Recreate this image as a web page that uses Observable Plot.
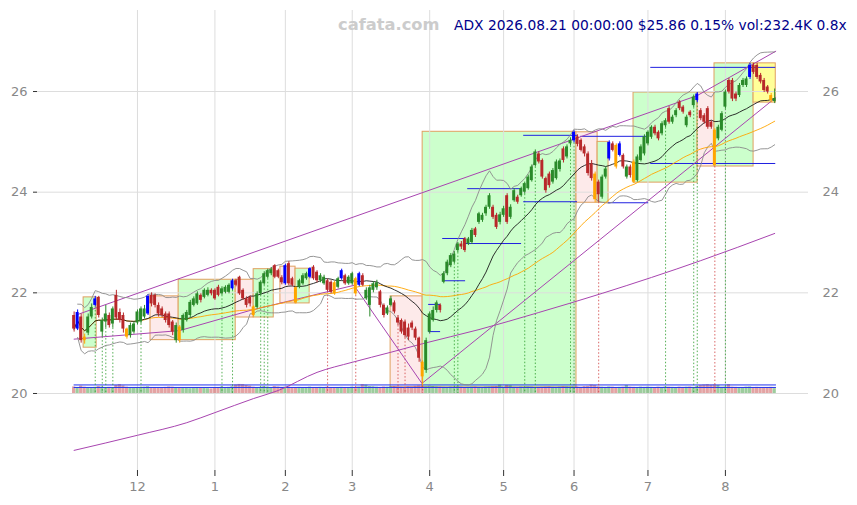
<!DOCTYPE html>
<html><head><meta charset="utf-8">
<script src="https://cdn.jsdelivr.net/npm/d3@7"></script>
<script src="https://cdn.jsdelivr.net/npm/@observablehq/plot@0.6"></script>
<style>
body{margin:0;background:#fff;}
#wrap{position:relative;width:857px;height:505px;font-family:"DejaVu Sans",sans-serif;}
#site{position:absolute;left:338px;top:15px;font-size:16.3px;font-weight:bold;color:#cccccc;}
#info{position:absolute;left:454px;top:17px;font-size:13.8px;color:#00008b;white-space:nowrap;}
</style></head><body>
<div id="wrap"><div id="chart"></div><div id="site">cafata.com</div><div id="info"></div></div>
<script>
const ticker = "ADX", lastDate = "2026.08.21 00:00:00", lastPrice = 25.86, lastChange = 0.15, lastVol = "232.4K", volRatio = "0.8x";
const monthTicks = [18,40,60,79,101,122,142,163,185];
const monthLabels = ["12","1","2","3","4","5","6","7","8"];
const priceTicks = [20,22,24,26];

const open = [
21.55,21.28,21.52,21.12,21.20,21.52,21.75,21.91,21.22,21.42,21.55,21.38,21.95,21.61,21.55,21.28,21.15,21.22,
21.40,21.42,21.52,21.58,21.95,21.95,21.75,21.68,21.58,21.58,21.42,21.05,21.32,21.25,21.45,21.55,21.75,21.78,21.95,21.91,21.95,22.05,
22.05,22.11,21.98,22.01,22.01,22.08,22.24,22.31,22.05,21.88,21.91,21.72,21.71,21.98,22.18,22.31,22.38,22.54,22.44,22.30,
22.18,22.58,22.28,22.10,22.11,22.18,22.28,22.31,22.51,22.41,22.24,22.18,22.24,22.21,22.20,22.11,22.28,22.34,22.18,
22.18,22.28,22.15,22.34,21.88,21.75,22.05,22.10,22.02,21.75,21.58,21.75,21.80,21.50,21.45,21.42,21.30,21.40,21.28,21.10,20.62,20.46,
21.22,21.45,21.65,21.75,22.21,22.38,22.54,22.61,22.84,22.97,23.07,22.97,23.00,23.27,23.40,23.44,23.57,23.70,23.70,23.54,23.40,
23.54,23.93,23.50,23.83,23.90,23.93,24.00,24.07,24.23,24.53,24.76,24.63,24.27,24.36,24.20,24.27,24.45,24.86,24.70,24.96,
25.02,25.10,25.03,24.90,24.76,24.56,24.36,24.20,23.90,24.30,24.66,24.96,24.93,24.73,24.73,24.30,24.50,24.60,24.23,24.63,24.76,
24.96,25.09,25.29,25.19,25.16,25.32,25.66,25.39,25.52,25.79,25.69,25.32,25.59,25.72,25.82,25.62,25.52,25.66,25.39,25.23,25.06,25.23,
25.69,26.22,26.22,25.95,25.92,26.12,26.12,26.28,26.52,26.52,26.32,26.22,26.09,25.92,25.80];
const high = [
21.62,21.66,21.58,21.18,21.58,21.78,21.93,21.93,21.50,21.75,21.60,21.72,22.05,21.68,21.60,21.30,21.40,21.42,
21.66,21.72,21.75,21.96,22.00,21.98,21.80,21.72,21.62,21.62,21.45,21.40,21.35,21.58,21.65,21.85,21.92,22.02,21.98,22.08,22.10,22.08,
22.08,22.15,22.12,22.14,22.18,22.27,22.27,22.33,22.08,21.92,21.94,21.74,22.02,22.24,22.42,22.47,22.50,22.56,22.47,22.34,
22.57,22.62,22.31,22.12,22.27,22.38,22.41,22.50,22.54,22.44,22.38,22.35,22.27,22.24,22.23,22.31,22.47,22.37,22.34,
22.41,22.31,22.41,22.38,22.10,22.15,22.22,22.25,22.05,21.78,21.74,21.93,21.84,21.55,21.48,21.46,21.38,21.44,21.32,21.12,20.65,21.10,
21.62,21.72,21.84,21.78,22.42,22.65,22.78,22.82,23.00,23.02,23.10,23.10,23.28,23.30,23.60,23.58,23.74,23.97,23.74,23.58,23.60,
23.72,23.97,23.75,24.07,23.94,24.10,24.20,24.34,24.54,24.84,24.80,24.66,24.30,24.40,24.47,24.64,24.66,24.90,24.94,25.08,
25.22,25.14,25.06,24.94,24.80,24.63,24.40,24.24,24.34,24.50,25.02,25.00,24.96,25.00,24.76,24.54,24.54,24.64,24.74,24.94,25.14,
25.22,25.32,25.33,25.22,25.40,25.46,25.70,25.53,25.66,25.82,25.72,25.53,25.62,25.93,25.98,25.66,25.56,25.70,25.42,25.26,25.33,25.60,
26.03,26.26,26.26,25.99,26.16,26.26,26.29,26.56,26.56,26.56,26.36,26.26,26.12,25.96,26.05];
const low = [
21.22,21.25,21.00,20.98,21.15,21.48,21.72,21.50,21.12,21.30,21.30,21.30,21.45,21.40,21.20,21.08,21.10,21.18,
21.36,21.38,21.48,21.55,21.72,21.70,21.52,21.50,21.40,21.30,21.15,21.00,21.00,21.20,21.42,21.50,21.72,21.75,21.80,21.88,21.92,21.94,
21.85,21.92,21.95,21.98,21.98,22.05,22.12,21.95,21.85,21.70,21.72,21.52,21.68,21.95,22.15,22.28,22.34,22.28,22.28,22.16,
22.15,22.14,22.12,21.78,22.08,22.15,22.25,22.28,22.25,22.20,22.20,22.15,22.02,21.98,21.95,22.08,22.25,22.15,22.15,
22.15,21.95,22.12,22.12,21.85,21.52,22.00,22.05,21.70,21.50,21.55,21.72,21.58,21.35,21.18,21.10,21.05,21.25,21.05,20.62,20.15,20.40,
21.18,21.42,21.60,21.60,22.18,22.34,22.50,22.58,22.80,22.86,22.80,22.94,22.96,23.10,23.36,23.40,23.52,23.66,23.46,23.26,23.35,
23.50,23.36,23.46,23.80,23.76,23.90,23.96,24.04,24.20,24.50,24.56,24.26,23.98,24.08,24.16,24.24,24.40,24.58,24.66,24.92,
24.98,24.90,24.80,24.70,24.32,24.22,23.79,23.80,23.86,24.26,24.62,24.80,24.46,24.70,24.46,24.26,24.28,24.17,24.20,24.60,24.72,
24.92,25.05,25.12,25.02,25.12,25.28,25.35,25.35,25.48,25.62,25.55,25.28,25.48,25.68,25.78,25.42,25.35,25.25,25.25,24.51,25.02,25.20,
25.65,25.95,25.80,25.80,25.88,26.08,26.08,26.24,26.34,26.24,26.15,25.98,25.95,25.78,25.76];
const close = [
21.28,21.61,21.05,21.05,21.52,21.71,21.88,21.55,21.45,21.58,21.35,21.68,21.50,21.45,21.28,21.12,21.35,21.38,
21.62,21.68,21.68,21.93,21.78,21.75,21.58,21.55,21.45,21.35,21.22,21.35,21.05,21.55,21.61,21.81,21.88,21.98,21.85,22.05,22.05,21.98,
21.88,21.95,22.08,22.11,22.15,22.24,22.15,21.98,21.88,21.75,21.78,21.55,21.98,22.21,22.38,22.44,22.46,22.31,22.31,22.20,
22.54,22.18,22.15,21.80,22.24,22.34,22.38,22.48,22.28,22.24,22.34,22.31,22.05,22.01,21.98,22.28,22.44,22.18,22.31,
22.38,21.98,22.38,22.15,22.05,22.10,22.18,22.20,21.75,21.55,21.70,21.88,21.62,21.40,21.22,21.15,21.12,21.30,21.10,20.70,20.33,21.05,
21.58,21.65,21.80,21.65,22.38,22.61,22.74,22.77,22.97,22.91,22.84,23.07,23.24,23.14,23.57,23.54,23.70,23.93,23.50,23.30,23.55,
23.67,23.40,23.70,24.03,23.80,24.07,24.17,24.30,24.50,24.80,24.60,24.30,24.03,24.13,24.43,24.60,24.62,24.63,24.90,25.03,
25.19,24.95,24.83,24.76,24.37,24.27,23.85,23.95,24.30,24.46,24.99,24.83,24.50,24.96,24.50,24.50,24.33,24.20,24.70,24.90,25.10,
25.19,25.29,25.16,25.06,25.36,25.42,25.39,25.49,25.62,25.66,25.59,25.49,25.52,25.89,25.95,25.46,25.39,25.29,25.29,24.53,25.29,25.56,
25.99,25.99,25.85,25.85,26.12,26.22,26.25,26.52,26.38,26.28,26.19,26.02,25.99,25.82,25.86];
const volume = [
310,280,350,300,270,260,290,330,300,280,290,270,380,420,360,300,260,250,
270,260,300,320,280,260,250,270,290,310,300,280,260,250,240,230,260,280,250,240,230,220,
260,280,300,270,290,320,400,430,420,380,350,300,280,290,320,300,280,330,310,290,
300,310,280,270,290,260,280,300,270,260,290,280,300,270,260,280,290,270,280,
300,290,310,420,400,330,320,300,290,310,300,320,330,310,300,290,320,310,340,360,330,320,
350,330,310,300,290,280,300,290,310,300,280,290,300,310,290,280,300,310,320,330,400,
300,380,370,290,280,300,290,310,300,280,270,290,300,310,290,280,300,320,310,300,
310,320,300,330,340,400,380,320,300,290,310,300,280,290,300,380,300,290,280,300,290,
300,290,280,300,290,310,300,290,280,300,290,300,310,290,320,380,400,420,390,410,380,300,
310,420,300,290,280,270,300,310,280,290,270,260,280,290,232];

const blueDays = [1,6,21,45,60,67,76,81,142,152,155,177,192];
const orangeDays = [3,15,30,51,63,74,80,99,148,154,159,182,198];

// zones: start, end (candle index), top, bottom, kind
const zoneStart = [2.7,21.7,29.7,45.9,51.0,58.6,62.9,89.9,99.0,142.7,148.7,158.9,177.1,181.9,193.0];
const zoneEnd   = [6.4,29.7,45.9,51.0,56.7,62.9,66.9,99.0,142.7,148.7,151.8,177.1,181.9,193.0,199.3];
const zoneTop   = [21.91,21.93,22.26,22.26,22.47,22.52,22.48,21.93,25.20,25.19,25.00,25.98,25.98,26.56,26.56];
const zoneBot   = [20.91,21.06,21.06,21.51,21.51,21.79,21.79,20.12,20.12,23.79,23.79,24.19,24.51,24.51,25.78];
const zoneKind  = ["up","down","up","down","up","down","up","down","up","down","up","up","down","up","last"];

// support / resistance segments
const levelStart = [100.7,100.7,104.7,104.7,111.2,111.8,127.7,127.7,143.9,151.8,163.8,163.8];
const levelEnd   = [104.1,104.1,111.2,111.2,127.1,127.1,143.0,143.0,163.2,163.2,199.3,199.3];
const levelValue = [21.77,21.23,23.08,22.24,22.98,24.07,25.13,23.81,25.11,23.79,26.48,24.57];

// dotted signal lines
const upSignals = [6,8,9,11,19,42,45,53,54,55,108,109,128,131,141,142,168,176,177,185];
const downSignals = [72,80,92,94,99,149,182];

// long moving average
const longMaIdx = [0,18,32,40,51,58,69,79,90,99,115,132,150,178,199];
const longMaVal = [18.87,19.17,19.42,19.62,19.90,20.06,20.42,20.62,20.82,20.99,21.27,21.61,21.99,22.64,23.18];

// trend lines
const upperTrendIdx = [1,177,199.3];
const upperTrendVal = [21.57,25.92,26.80];
const lowerTrendIdx = [0,30,50,79.5,98.8,199.3];
const lowerTrendVal = [21.08,21.25,21.65,22.15,20.20,25.88];

const volLines = [20.17,20.12];

document.getElementById("info").textContent =
  `${ticker} ${lastDate} $${lastPrice.toFixed(2)} ${lastChange.toFixed(2)}% vol:${lastVol} ${volRatio}`;

const n = close.length;
const idx = d3.range(n);
const bars = idx.map(i => ({i, o: open[i], h: high[i], l: low[i], c: close[i], v: volume[i]}));
const blueSet = new Set(blueDays), orangeSet = new Set(orangeDays);
const candleColor = d => blueSet.has(d.i) ? "#0000ff" : orangeSet.has(d.i) ? "#ffa500" : (d.c >= d.o ? "#2a8a2a" : "#b8282a");

function sma(k) { return idx.map(i => d3.mean(close.slice(Math.max(0, i - k + 1), i + 1))); }
function sdev(k) { return idx.map(i => { const w = close.slice(Math.max(0, i - k + 1), i + 1); const m = d3.mean(w); return Math.sqrt(d3.mean(w, v => (v - m) ** 2)); }); }
const ma20 = sma(20), ma50 = sma(50), sd20 = sdev(20);
const maRows = idx.map(i => ({i, m20: ma20[i], m50: ma50[i], up: ma20[i] + 2 * sd20[i], dn: ma20[i] - 2 * sd20[i]}));

const zones = zoneStart.map((s, k) => ({s, e: zoneEnd[k], t: zoneTop[k], b: zoneBot[k], kind: zoneKind[k]}));
const zoneFill = {up: "#ccffcc", down: "#fdeaea", last: "#ffff99"};
const levels = levelStart.map((s, k) => ({s, e: levelEnd[k], v: levelValue[k]}));
const signals = upSignals.map(i => ({i, kind: "up"})).concat(downSignals.map(i => ({i, kind: "down"})));
const longMa = longMaIdx.map((x, k) => ({x, y: longMaVal[k]}));
const upperTrend = upperTrendIdx.map((x, k) => ({x, y: upperTrendVal[k]}));
const lowerTrend = lowerTrendIdx.map((x, k) => ({x, y: lowerTrendVal[k]}));

const volMax = d3.max(volume);
const volH = 0.18;
const purple = "#a845b0";
const monthFmt = v => monthLabels[monthTicks.indexOf(v)];
const intFmt = v => String(v);

const chart = Plot.plot({
  width: 857, height: 505,
  marginLeft: 37, marginRight: 49, marginTop: 10, marginBottom: 35,
  style: {fontFamily: "DejaVu Sans, sans-serif", fontSize: "13px", background: "#fff"},
  x: {type: "linear", domain: [-10.4, 208.6], axis: null},
  y: {type: "linear", domain: [18.47, 27.61], axis: null},
  marks: [
    Plot.rect(zones, {x1: "s", x2: "e", y1: "b", y2: "t", fill: d => zoneFill[d.kind], stroke: "#e0a060", strokeWidth: 1}),
    Plot.gridY(priceTicks, {stroke: "#dddddd", strokeOpacity: 1}),
    Plot.gridX(monthTicks, {stroke: "#dddddd", strokeOpacity: 1}),
    Plot.rect(bars, {x1: d => d.i - 0.45, x2: d => d.i + 0.45, y1: 20, y2: d => 20 + d.v / volMax * volH,
      fill: d => d.c >= d.o ? "#3c9a3c" : "#c84848", fillOpacity: 0.5}),
    Plot.ruleY(volLines, {y: d => d, x1: 0, x2: n - 0.5, stroke: "#2233ee", strokeWidth: 1}),
    Plot.ruleX(signals, {x: "i", y1: d => low[d.i], y2: 20.0, stroke: d => d.kind === "up" ? "#2a9a2a" : "#d04040",
      strokeWidth: 0.8, strokeDasharray: "1.5,2"}),
    Plot.ruleY(levels, {y: "v", x1: "s", x2: "e", stroke: "#2020e0", strokeWidth: 1}),
    Plot.line(longMa, {x: "x", y: "y", stroke: purple, strokeWidth: 1, curve: "monotone-x"}),
    Plot.line(upperTrend, {x: "x", y: "y", stroke: purple, strokeWidth: 1}),
    Plot.line(lowerTrend, {x: "x", y: "y", stroke: purple, strokeWidth: 1}),
    Plot.line(maRows.filter(d => d.i > 0), {x: "i", y: "up", stroke: "#8a8a8a", strokeWidth: 0.9}),
    Plot.line(maRows.filter(d => d.i > 0), {x: "i", y: "dn", stroke: "#8a8a8a", strokeWidth: 0.9}),
    Plot.line(maRows, {x: "i", y: "m50", stroke: "#ffa500", strokeWidth: 0.9}),
    Plot.line(maRows, {x: "i", y: "m20", stroke: "#1a1a1a", strokeWidth: 0.9}),
    Plot.ruleX(bars, {x: "i", y1: "l", y2: "h", stroke: candleColor, strokeWidth: 1}),
    Plot.rect(bars, {x1: d => d.i - 0.42, x2: d => d.i + 0.42, y1: "o", y2: "c", fill: candleColor}),
    Plot.axisY(priceTicks, {anchor: "left", tickSize: 0, tickPadding: 10, tickFormat: intFmt, color: "#888888", fontSize: 13}),
    Plot.axisY(priceTicks, {anchor: "left", tickSize: 4, tickFormat: () => "", color: "#333333"}),
    Plot.axisY(priceTicks, {anchor: "right", tickSize: 0, tickPadding: 14, tickFormat: intFmt, color: "#888888", fontSize: 13}),
    Plot.axisX(monthTicks, {anchor: "bottom", tickSize: 0, tickPadding: 11, tickFormat: monthFmt, color: "#888888", fontSize: 13}),
    Plot.axisX(monthTicks, {anchor: "bottom", tickSize: 6, tickFormat: () => "", color: "#333333"})
  ]
});
document.getElementById("chart").appendChild(chart);
</script>
</body></html>
